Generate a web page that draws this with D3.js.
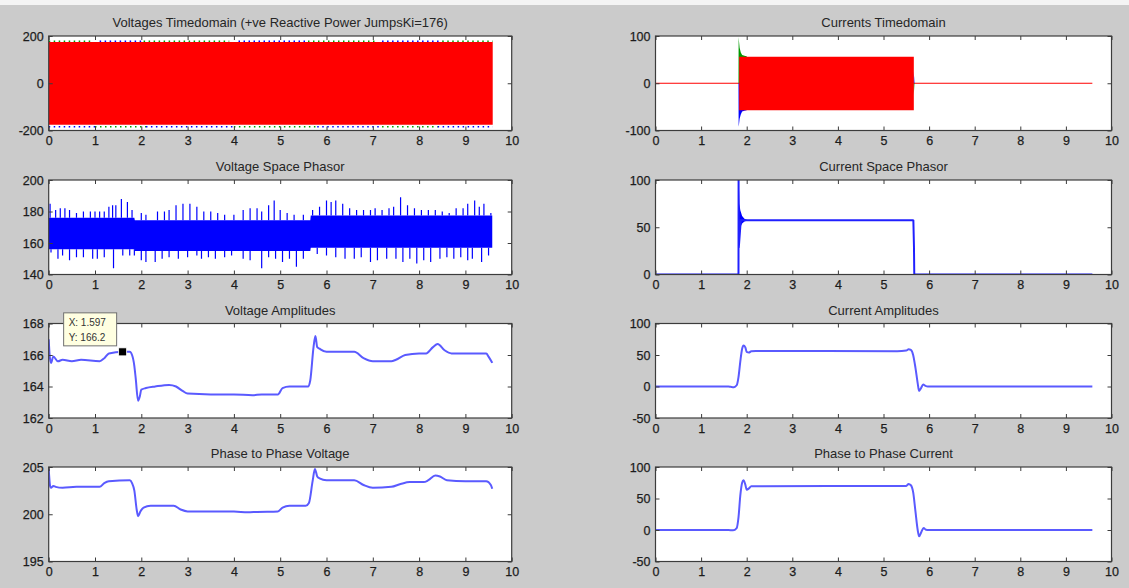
<!DOCTYPE html>
<html>
<head>
<meta charset="utf-8">
<script src="https://cdn.jsdelivr.net/npm/d3@7"></script>
<style>
  body { margin: 0; background: #cbcbcb; }
  svg { display: block; }
  text { font-family: "Liberation Sans", Arial, sans-serif; }
</style>
</head>
<body>
<svg id="fig" width="1129" height="588"></svg>
<script>
// ---------- shared axis ticks ----------
const xTicks = [0, 1, 2, 3, 4, 5, 6, 7, 8, 9, 10];

// ---------- Voltages timedomain (three phase envelope) ----------
const vEnvT = [0, 9.59];
const vRedHi = [175, 175];
const vRedLo = [-176, -176];
const vPeakOuter = 181;
const vBlueTopSeg = [[1.1, 2.0], [4.1, 5.6], [7.2, 8.5]];
const vGreenTopSeg = [[0.0, 0.95], [2.05, 3.9], [5.6, 7.1], [8.5, 9.59]];
const vBlueBotSeg = [[0.0, 1.0], [2.1, 4.0], [5.8, 7.2], [8.4, 9.59]];
const vGreenBotSeg = [[1.0, 2.1], [4.0, 5.8], [7.2, 8.4]];
const vYTicks = [-200, 0, 200];

// ---------- Currents timedomain ----------
const iZeroT = [0, 9.58];
const iRedT = [1.835, 5.665];
const iRedHi = [56, 56];
const iRedLo = [-57, -57];
const iStartT = [1.82, 1.823, 1.83, 1.845, 1.87, 1.9, 1.95, 2.0];
const iGreenHi = [0, 98, 90, 75, 65, 60, 58, 57];
const iBlueLo = [0, -92, -88, -75, -66, -60, -58, -57];
const iTailT = [5.655, 5.66, 5.67, 5.68];
const iTailBlue = [0, 25, 15, 0];
const iTailGreen = [0, -25, -15, 0];
const iYTicks = [-100, 0, 100];

// ---------- Voltage space phasor ----------
const vspBandT = [0, 1.85, 1.86, 5.65, 5.66, 9.58];
const vspBandHi = [176, 176, 174.5, 174.5, 177.5, 177.5];
const vspBandLo = [156, 156, 155, 155, 157, 157];
const vspUpT = [0.03, 0.15, 0.25, 0.35, 0.45, 0.6, 0.75, 0.9, 1.0, 1.1, 1.2, 1.3, 1.38, 1.45, 1.57, 1.7, 1.8,
  2.0, 2.1, 2.35, 2.5, 2.6, 2.75, 2.9, 3.05, 3.2, 3.35, 3.5, 3.65, 3.8, 4.0, 4.2, 4.35, 4.5, 4.6, 4.75, 4.87,
  5.0, 5.15, 5.3, 5.5, 5.7, 5.85, 6.0, 6.1, 6.2, 6.35, 6.5, 6.65, 6.8, 6.95, 7.05, 7.2, 7.35, 7.45, 7.6, 7.75,
  7.9, 8.05, 8.2, 8.35, 8.5, 8.65, 8.8, 8.95, 9.05, 9.2, 9.3, 9.4, 9.55];
const vspUpV = [185, 181, 182, 182, 181, 179, 180, 180, 180, 180, 180, 183, 184, 184, 188, 186, 181,
  179, 178, 180, 180, 181, 184, 185, 185, 183, 180, 180, 179, 178, 178, 181, 182, 182, 180, 184, 187,
  181, 179, 178, 178, 181, 183, 187, 186, 187, 185, 182, 181, 181, 181, 182, 181, 182, 183, 189, 184,
  182, 181, 181, 181, 180, 179, 182, 182, 185, 187, 183, 185, 179];
const vspDownT = [0.05, 0.2, 0.3, 0.45, 0.6, 0.75, 0.95, 1.05, 1.2, 1.4, 1.6, 1.75, 1.85, 2.0, 2.1, 2.3, 2.45,
  2.6, 2.8, 3.0, 3.2, 3.3, 3.45, 3.6, 3.8, 3.95, 4.2, 4.35, 4.6, 4.75, 4.9, 5.05, 5.2, 5.35, 5.5, 5.8, 6.0,
  6.2, 6.4, 6.6, 6.75, 6.95, 7.1, 7.3, 7.5, 7.65, 7.8, 7.95, 8.1, 8.25, 8.45, 8.6, 8.75, 8.9, 9.05, 9.15,
  9.35, 9.5];
const vspDownV = [154, 150, 152, 149, 151, 151, 150, 150, 151, 144, 152, 152, 152, 149, 148, 148, 150,
  151, 150, 151, 152, 150, 151, 150, 151, 152, 150, 149, 144, 151, 150, 148, 150, 145, 150, 153, 152,
  151, 150, 150, 151, 148, 149, 150, 150, 148, 150, 147, 149, 148, 150, 151, 150, 151, 149, 150,
  148, 152];
const vspYTicks = [140, 160, 180, 200];

// ---------- Current space phasor ----------
const ispT = [0, 1.82, 1.822, 1.826, 1.87, 5.645, 5.655, 5.668, 5.675, 9.58];
const ispV = [0, 0, 100, 28, 57.3, 57.3, 57, 30, 0, 0];
const ispEnvT = [1.826, 1.84, 1.86, 1.9, 1.95, 2.0, 2.05];
const ispEnvHi = [100, 75, 68, 62, 59, 58, 57.5];
const ispEnvLo = [28, 42, 50, 54, 56, 57, 57.3];
const ispYTicks = [0, 50, 100];

// ---------- Voltage amplitudes ----------
const vaT = [0, 0.02, 0.05, 0.1, 0.2, 0.3, 0.5, 0.7, 1.1, 1.2, 1.3, 1.597, 1.75, 1.8, 1.85, 1.88, 1.93, 1.97,
  2.0, 2.1, 2.3, 2.6, 2.75, 2.9, 3.0, 3.5, 4.0, 4.4, 4.6, 4.95, 5.05, 5.2, 5.5, 5.6, 5.65, 5.72, 5.76, 5.8,
  5.85, 6.0, 6.5, 6.6, 6.8, 7.0, 7.4, 7.5, 7.7, 8.0, 8.15, 8.3, 8.4, 8.55, 8.7, 9.3, 9.45, 9.5, 9.58];
const vaV = [167, 166, 165.5, 165.9, 165.6, 165.7, 165.6, 165.7, 165.6, 165.8, 166.1, 166.2, 166.2, 166.0,
  165.3, 164.5, 163.1, 163.4, 163.8, 163.9, 164.0, 164.1, 164.0, 163.7, 163.55, 163.5, 163.5, 163.45, 163.5,
  163.5, 163.9, 164.0, 164.0, 164.0, 164.4, 166.5, 167.2, 166.5, 166.4, 166.2, 166.2, 166.2, 165.8, 165.6,
  165.6, 165.7, 166.0, 166.1, 166.1, 166.5, 166.7, 166.3, 166.1, 166.1, 166.1, 165.9, 165.5];
const vaTipX = 1.597;
const vaTipY = 166.2;
const vaYTicks = [162, 164, 166, 168];

// ---------- Current amplitudes ----------
const iaT = [0, 1.6, 1.65, 1.72, 1.78, 1.82, 1.86, 1.9, 1.93, 1.97, 2.0, 2.05, 2.1, 2.2, 5.3, 5.5, 5.55,
  5.6, 5.65, 5.7, 5.75, 5.78, 5.82, 5.87, 5.92, 5.97, 9.58];
const iaV = [0, 0, -0.5, -1, 2, 15, 40, 60, 65, 62, 55, 54, 56, 56.5, 56, 57, 59, 58, 50, 30, 5, -7, -3, 3,
  1, 0, 0];
const iaYTicks = [-50, 0, 50, 100];

// ---------- Phase to phase voltage ----------
const ppvT = [0, 0.03, 0.05, 0.1, 0.15, 0.3, 0.6, 1.1, 1.2, 1.3, 1.75, 1.8, 1.85, 1.9, 1.93, 1.98, 2.05,
  2.2, 2.7, 2.85, 3.0, 4.0, 4.3, 4.5, 4.95, 5.05, 5.2, 5.55, 5.62, 5.7, 5.75, 5.8, 5.85, 6.0, 6.6, 6.8,
  7.0, 7.4, 7.6, 7.8, 8.1, 8.2, 8.35, 8.45, 8.6, 9.0, 9.45, 9.55, 9.58];
const ppvV = [204.8, 203, 202.8, 203.0, 202.9, 202.8, 202.9, 202.9, 203.3, 203.5, 203.6, 203.3, 202.5,
  200.5, 199.8, 200.3, 200.7, 200.9, 200.9, 200.5, 200.3, 200.3, 200.2, 200.25, 200.3, 200.7, 200.9,
  200.9, 201.2, 203.5, 204.8, 204.0, 203.8, 203.6, 203.6, 203.1, 202.8, 202.9, 203.2, 203.4, 203.4,
  203.6, 204.1, 204.0, 203.6, 203.5, 203.5, 203.1, 202.7];
const ppvYTicks = [195, 200, 205];

// ---------- Phase to phase current ----------
const ppiT = [0, 1.6, 1.7, 1.78, 1.82, 1.86, 1.9, 1.93, 1.97, 2.0, 2.05, 2.1, 5.5, 5.55, 5.6, 5.65, 5.7,
  5.75, 5.78, 5.83, 5.88, 5.93, 6.0, 9.58];
const ppiV = [0, 0, -0.5, 3, 20, 55, 75, 79, 72, 64, 66, 69.5, 70, 73, 71, 60, 30, 0, -10, -3, 3, 0.5, 0, 0];
const ppiYTicks = [-50, 0, 50, 100];

// ---------- layout ----------
const svg = d3.select("#fig");
const W = 1129, H = 588;
svg.append("rect").attr("width", W).attr("height", H).attr("fill", "#cbcbcb");
svg.append("rect").attr("width", W).attr("height", 5).attr("fill", "#f4f4f4");

const colX = [[48.7, 511.7], [655.5, 1111.5]];
const rowTop = [36, 180, 323.5, 467];
const rowH = 94.5;

const ampBlue = "#5a5aff";
const labelInk = "#1c1c1c";
let clipId = 0;

function panel(col, row, title, yDomain, yTicks, draw) {
  const [x0, x1] = colX[col];
  const y0 = rowTop[row], y1 = y0 + rowH;
  const x = d3.scaleLinear().domain([0, 10]).range([x0, x1]);
  const y = d3.scaleLinear().domain(yDomain).range([y1, y0]);
  const g = svg.append("g");

  g.append("rect").attr("x", x0).attr("y", y0).attr("width", x1 - x0).attr("height", rowH)
    .attr("fill", "#ffffff");

  const id = "clip" + (clipId++);
  g.append("clipPath").attr("id", id).append("rect")
    .attr("x", x0).attr("y", y0).attr("width", x1 - x0).attr("height", rowH);
  const plot = g.append("g").attr("clip-path", `url(#${id})`);
  draw(plot, x, y);

  const fmt = d => String(d);
  const styleAxis = sel => {
    sel.select(".domain").remove();
    sel.selectAll(".tick line").attr("stroke", "#3c3c3c");
    sel.selectAll(".tick text").attr("fill", labelInk).attr("font-size", 12.5)
      .attr("stroke", labelInk).attr("stroke-width", 0.25);
  };
  g.append("g").attr("transform", `translate(0,${y1})`)
    .call(d3.axisBottom(x).tickValues(xTicks).tickSize(-4).tickPadding(6).tickFormat(fmt))
    .call(styleAxis);
  g.append("g").attr("transform", `translate(0,${y0})`)
    .call(d3.axisTop(x).tickValues(xTicks).tickSize(-4).tickFormat(""))
    .call(styleAxis);
  g.append("g").attr("transform", `translate(${x0},0)`)
    .call(d3.axisLeft(y).tickValues(yTicks).tickSize(-4).tickPadding(5).tickFormat(fmt))
    .call(styleAxis);
  g.append("g").attr("transform", `translate(${x1},0)`)
    .call(d3.axisRight(y).tickValues(yTicks).tickSize(-4).tickFormat(""))
    .call(styleAxis);
  g.selectAll("text").attr("font-family", "'Liberation Sans', Arial, sans-serif");

  g.append("rect").attr("x", x0).attr("y", y0).attr("width", x1 - x0).attr("height", rowH)
    .attr("fill", "none").attr("stroke", "#3c3c3c").attr("stroke-width", 1.2);

  g.append("text").attr("x", (x0 + x1) / 2).attr("y", y0 - 9)
    .attr("text-anchor", "middle").attr("font-size", 13).attr("fill", "#262626")
    .text(title);
  return { g, x, y };
}

function band(plot, x, y, ts, hi, lo, color) {
  const idx = d3.range(ts.length);
  plot.append("path").datum(idx)
    .attr("d", d3.area().x(i => x(ts[i])).y0(i => y(lo[i])).y1(i => y(hi[i])))
    .attr("fill", color);
}

function line(plot, x, y, ts, vs, color, width) {
  const idx = d3.range(ts.length);
  return plot.append("path").datum(idx)
    .attr("d", d3.line().x(i => x(ts[i])).y(i => y(vs[i])).curve(d3.curveMonotoneX))
    .attr("fill", "none").attr("stroke", color).attr("stroke-width", width)
    .attr("stroke-linejoin", "round");
}

// Voltages timedomain
panel(0, 0, "Voltages Timedomain (+ve Reactive Power JumpsKi=176)", [-200, 200], vYTicks, (p, x, y) => {
  const dots = (segs, v, color) => segs.forEach(([a, b]) =>
    p.append("line").attr("x1", x(a)).attr("x2", x(b)).attr("y1", y(v)).attr("y2", y(v))
      .attr("stroke", color).attr("stroke-width", 1.5).attr("stroke-dasharray", "1.5,3.5"));
  dots(vBlueTopSeg, vPeakOuter - 3, "#0000ff");
  dots(vGreenTopSeg, vPeakOuter - 3, "#00a000");
  dots(vBlueBotSeg, -vPeakOuter - 3, "#0000ff");
  dots(vGreenBotSeg, -vPeakOuter - 3, "#00a000");
  band(p, x, y, vEnvT, vRedHi, vRedLo, "#ff0000");
});

// Currents timedomain
panel(1, 0, "Currents Timedomain", [-100, 100], iYTicks, (p, x, y) => {
  line(p, x, y, iZeroT, iZeroT.map(() => 0), "#ff0000", 1);
  band(p, x, y, iStartT, iGreenHi, iStartT.map(() => 0), "#009900");
  band(p, x, y, iStartT, iStartT.map(() => 0), iBlueLo, "#0000ff");
  band(p, x, y, iTailT, iTailBlue, iTailT.map(() => 0), "#0000ff");
  band(p, x, y, iTailT, iTailT.map(() => 0), iTailGreen, "#009900");
  band(p, x, y, iRedT, iRedHi, iRedLo, "#ff0000");
});

// Voltage space phasor
panel(0, 1, "Voltage Space Phasor", [140, 200], vspYTicks, (p, x, y) => {
  band(p, x, y, vspBandT, vspBandHi, vspBandLo, "#0000ff");
  const spikes = (ts, vs, base) => ts.forEach((t, i) =>
    p.append("line").attr("x1", x(t)).attr("x2", x(t)).attr("y1", y(base(t))).attr("y2", y(vs[i]))
      .attr("stroke", "#0000ff").attr("stroke-width", 1.2));
  const hiAt = t => d3.scaleLinear().domain(vspBandT).range(vspBandHi)(t);
  const loAt = t => d3.scaleLinear().domain(vspBandT).range(vspBandLo)(t);
  spikes(vspUpT, vspUpV, hiAt);
  spikes(vspDownT, vspDownV, loAt);
});

// Current space phasor
panel(1, 1, "Current Space Phasor", [0, 100], ispYTicks, (p, x, y) => {
  band(p, x, y, ispEnvT, ispEnvHi, ispEnvLo, "#0000ff");
  const idx = d3.range(ispT.length);
  p.append("path").datum(idx)
    .attr("d", d3.line().x(i => x(ispT[i])).y(i => y(ispV[i])))
    .attr("fill", "none").attr("stroke", "#2020ff").attr("stroke-width", 2);
});

// Voltage amplitudes with data tip
const va = panel(0, 2, "Voltage Amplitudes", [162, 168], vaYTicks, (p, x, y) => {
  line(p, x, y, vaT, vaV, ampBlue, 2);
});
{
  const mx = va.x(vaTipX), my = va.y(vaTipY);
  va.g.append("rect").attr("x", mx - 4).attr("y", my - 4).attr("width", 8).attr("height", 8)
    .attr("fill", "#000000").attr("stroke", "#ffffff").attr("stroke-width", 0.8);
  const bx = mx - 59, by = my - 39;
  va.g.append("rect").attr("x", bx).attr("y", by).attr("width", 53).attr("height", 33)
    .attr("fill", "#ffffe1").attr("stroke", "#707070").attr("stroke-width", 1);
  va.g.append("text").attr("x", bx + 5).attr("y", by + 13).attr("font-size", 10).attr("fill", "#333")
    .text("X: " + vaTipX);
  va.g.append("text").attr("x", bx + 5).attr("y", by + 28).attr("font-size", 10).attr("fill", "#333")
    .text("Y: " + vaTipY);
}

// Current amplitudes
panel(1, 2, "Current Amplitudes", [-50, 100], iaYTicks, (p, x, y) => {
  line(p, x, y, iaT, iaV, ampBlue, 2);
});

// Phase to phase voltage
panel(0, 3, "Phase to Phase Voltage", [195, 205], ppvYTicks, (p, x, y) => {
  line(p, x, y, ppvT, ppvV, ampBlue, 2);
});

// Phase to phase current
panel(1, 3, "Phase to Phase Current", [-50, 100], ppiYTicks, (p, x, y) => {
  line(p, x, y, ppiT, ppiV, ampBlue, 2);
});
</script>
</body>
</html>
